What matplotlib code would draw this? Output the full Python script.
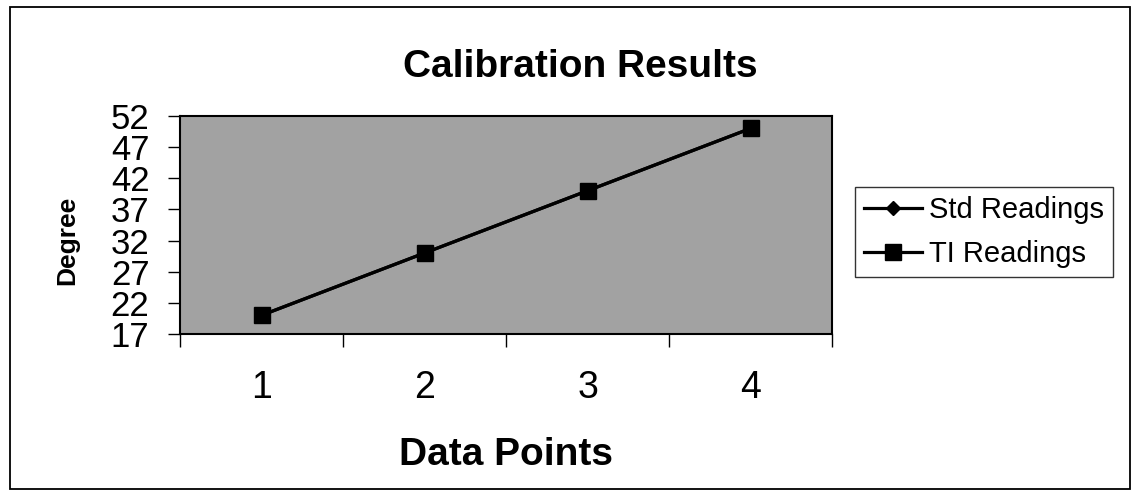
import matplotlib.pyplot as plt
from matplotlib.patches import Rectangle

# data
points = [1, 2, 3, 4]
std_readings = [20, 30, 40, 50]
ti_readings = [20, 30, 40, 50]
y_ticks = [17, 22, 27, 32, 37, 42, 47, 52]

plt.rcParams['font.family'] = ['Liberation Sans', 'DejaVu Sans']

W, H = 1139, 497
fig = plt.figure(figsize=(W / 100, H / 100), dpi=100)
# plot area in pixels: left 180, right 832, top 116, bottom 334
ax = fig.add_axes([180 / W, 1 - 334 / H, 652 / W, 218 / H])

# outer chart border
fig.patches.append(Rectangle((10 / W, 8 / H), 1120 / W, 482 / H, transform=fig.transFigure,
                             fill=False, edgecolor='black', linewidth=1.3))

ax.set_facecolor('#a2a2a2')
ax.plot(points, std_readings, '-D', color='black', linewidth=2.3, markersize=7.5,
        label='Std Readings')
ax.plot(points, ti_readings, '-s', color='black', linewidth=2.3, markersize=12,
        label='TI Readings')

ax.set_xlim(0.5, 4.5)
ax.set_ylim(17, 52)
ax.set_yticks(y_ticks)
ax.set_yticklabels([str(v) for v in y_ticks], fontsize=25)
ax.tick_params(axis='y', length=9, width=1, pad=13)

# Excel style: ticks between categories, labels centred on categories
ax.set_xticks([0.5, 1.5, 2.5, 3.5, 4.5])
ax.set_xticklabels([])
ax.set_xticks(points, minor=True)
ax.set_xticklabels([str(p) for p in points], minor=True, fontsize=27)
ax.tick_params(axis='x', which='major', length=9, width=1)
ax.tick_params(axis='x', which='minor', length=0, pad=26)

for side in ['left', 'bottom', 'top', 'right']:
    ax.spines[side].set_linewidth(1.5)

fig.text(580 / W, 1 - 77 / H, 'Calibration Results', fontsize=28, fontweight='bold',
         ha='center', va='baseline')
fig.text(506 / W, 1 - 465 / H, 'Data Points', fontsize=28, fontweight='bold',
         ha='center', va='baseline')
fig.text(67 / W, 1 - 240 / H, 'Degree', fontsize=19, fontweight='bold',
         ha='center', va='center', rotation=90)

leg = fig.legend(loc='upper left', bbox_to_anchor=(855 / W, 1 - 187 / H), fontsize=21,
                 frameon=True, fancybox=False, edgecolor='black',
                 handlelength=2.0, handletextpad=0.25, borderpad=0.3,
                 labelspacing=0.55, borderaxespad=0)
leg.get_frame().set_linewidth(1.0)

plt.savefig('out.png', dpi=100)
